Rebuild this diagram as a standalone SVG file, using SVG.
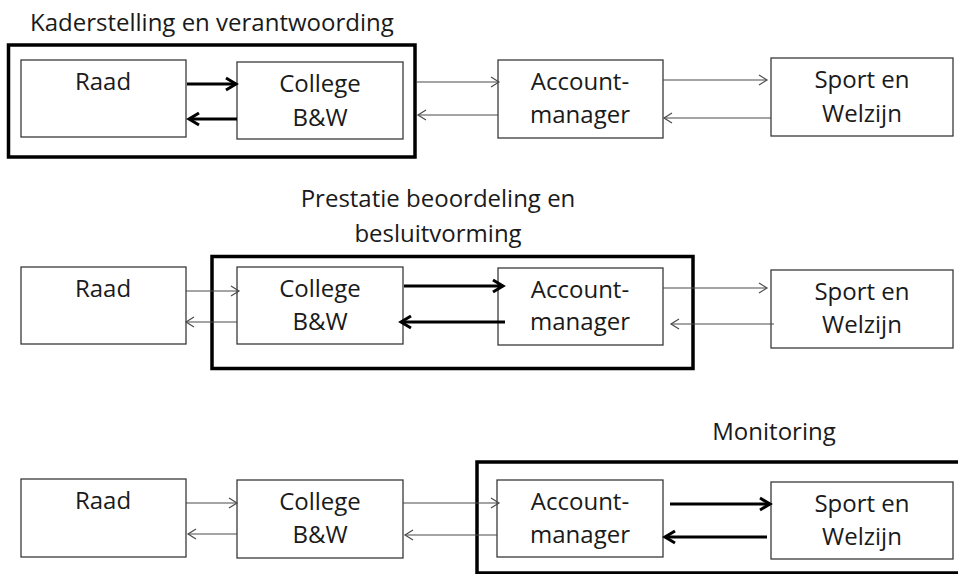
<svg xmlns="http://www.w3.org/2000/svg" width="958" height="574" viewBox="0 0 958 574">
<defs>
<style>
.bg{fill:#ffffff}
.box{fill:#ffffff;stroke:#3a3a3a;stroke-width:1.3}
.frame{fill:none;stroke:#000000;stroke-width:3.5}
.t{font-family:"Open Sans",Lato,"Liberation Sans",sans-serif;font-size:24px;fill:#1a1a1a;font-variant-ligatures:none}
.c{text-anchor:middle}
.thin{stroke:#4a4a4a;stroke-width:1.2;fill:none}
.thick{stroke:#000000;stroke-width:3;fill:none}
</style>
<marker id="aThin" markerUnits="userSpaceOnUse" markerWidth="12" markerHeight="14" viewBox="0 0 12 14" refX="10" refY="7" orient="auto">
<path d="M2,2 L10,7 L2,12" fill="none" stroke="#4a4a4a" stroke-width="1.2"/>
</marker>
<marker id="aThick" markerUnits="userSpaceOnUse" markerWidth="16" markerHeight="18" viewBox="0 0 16 18" refX="13" refY="9" orient="auto">
<path d="M3,3 L13,9 L3,15" fill="none" stroke="#000000" stroke-width="3"/>
</marker>
</defs>
<rect class="bg" x="0" y="0" width="958" height="574"/>

<g id="frames">
<g id="frame-kaderstelling">
<rect class="frame" x="8.5" y="45" width="406.5" height="112"/>
<text class="t" x="30" y="31">Kaderstelling en verantwoording</text>
</g>
<g id="frame-prestatie">
<rect class="frame" x="212" y="256.5" width="481" height="112"/>
<text class="t c" x="438" y="207">Prestatie beoordeling en</text>
<text class="t c" x="438" y="242">besluitvorming</text>
</g>
<g id="frame-monitoring">
<rect class="frame" x="477" y="462" width="490" height="111"/>
<text class="t c" x="774" y="440">Monitoring</text>
</g>
</g>

<g id="row1">
<g id="raad-1"><rect class="box" x="21" y="60" width="165" height="77"/><text class="t c" x="103" y="90">Raad</text></g>
<g id="college-1"><rect class="box" x="237" y="62" width="166" height="77"/><text class="t c" x="320" y="92">College</text><text class="t c" x="320" y="126">B&amp;W</text></g>
<g id="account-1"><rect class="box" x="498" y="60" width="165" height="78"/><text class="t c" x="580" y="90">Account-</text><text class="t c" x="580" y="123">manager</text></g>
<g id="sport-1"><rect class="box" x="771" y="58" width="182" height="78"/><text class="t c" x="862" y="88">Sport en</text><text class="t c" x="862" y="122">Welzijn</text></g>
</g>

<g id="row2">
<g id="raad-2"><rect class="box" x="21" y="267" width="165" height="77"/><text class="t c" x="103" y="297">Raad</text></g>
<g id="college-2"><rect class="box" x="237" y="267" width="166" height="77"/><text class="t c" x="320" y="297">College</text><text class="t c" x="320" y="330">B&amp;W</text></g>
<g id="account-2"><rect class="box" x="498" y="268" width="165" height="77"/><text class="t c" x="580" y="298">Account-</text><text class="t c" x="580" y="330">manager</text></g>
<g id="sport-2"><rect class="box" x="771" y="270" width="182" height="78"/><text class="t c" x="862" y="300">Sport en</text><text class="t c" x="862" y="333">Welzijn</text></g>
</g>

<g id="row3">
<g id="raad-3"><rect class="box" x="21" y="479" width="165" height="78"/><text class="t c" x="103" y="509">Raad</text></g>
<g id="college-3"><rect class="box" x="237" y="480" width="166" height="78"/><text class="t c" x="320" y="510">College</text><text class="t c" x="320" y="543">B&amp;W</text></g>
<g id="account-3"><rect class="box" x="497" y="480" width="166" height="77"/><text class="t c" x="580" y="510">Account-</text><text class="t c" x="580" y="543">manager</text></g>
<g id="sport-3"><rect class="box" x="771" y="482" width="182" height="77"/><text class="t c" x="862" y="512">Sport en</text><text class="t c" x="862" y="545">Welzijn</text></g>
</g>

<g id="connectors">
<line class="thick" x1="187" y1="84" x2="236" y2="84" marker-end="url(#aThick)"/>
<line class="thick" x1="237" y1="119" x2="189" y2="119" marker-end="url(#aThick)"/>
<line class="thin" x1="417" y1="82" x2="499" y2="82" marker-end="url(#aThin)"/>
<line class="thin" x1="498" y1="115" x2="418" y2="115" marker-end="url(#aThin)"/>
<line class="thin" x1="663" y1="80" x2="767" y2="80" marker-end="url(#aThin)"/>
<line class="thin" x1="771" y1="118" x2="664" y2="118" marker-end="url(#aThin)"/>

<line class="thin" x1="186" y1="291" x2="239" y2="291" marker-end="url(#aThin)"/>
<line class="thin" x1="237" y1="322" x2="186" y2="322" marker-end="url(#aThin)"/>
<line class="thick" x1="404" y1="286" x2="503" y2="286" marker-end="url(#aThick)"/>
<line class="thick" x1="505" y1="322" x2="401" y2="322" marker-end="url(#aThick)"/>
<line class="thin" x1="663" y1="288" x2="767" y2="288" marker-end="url(#aThin)"/>
<line class="thin" x1="774" y1="324" x2="671" y2="324" marker-end="url(#aThin)"/>

<line class="thin" x1="186" y1="503" x2="237" y2="503" marker-end="url(#aThin)"/>
<line class="thin" x1="237" y1="534" x2="188" y2="534" marker-end="url(#aThin)"/>
<line class="thin" x1="403" y1="503" x2="499" y2="503" marker-end="url(#aThin)"/>
<line class="thin" x1="497" y1="535" x2="405" y2="535" marker-end="url(#aThin)"/>
<line class="thick" x1="670" y1="504" x2="770" y2="504" marker-end="url(#aThick)"/>
<line class="thick" x1="767" y1="537" x2="665" y2="537" marker-end="url(#aThick)"/>
</g>
</svg>
